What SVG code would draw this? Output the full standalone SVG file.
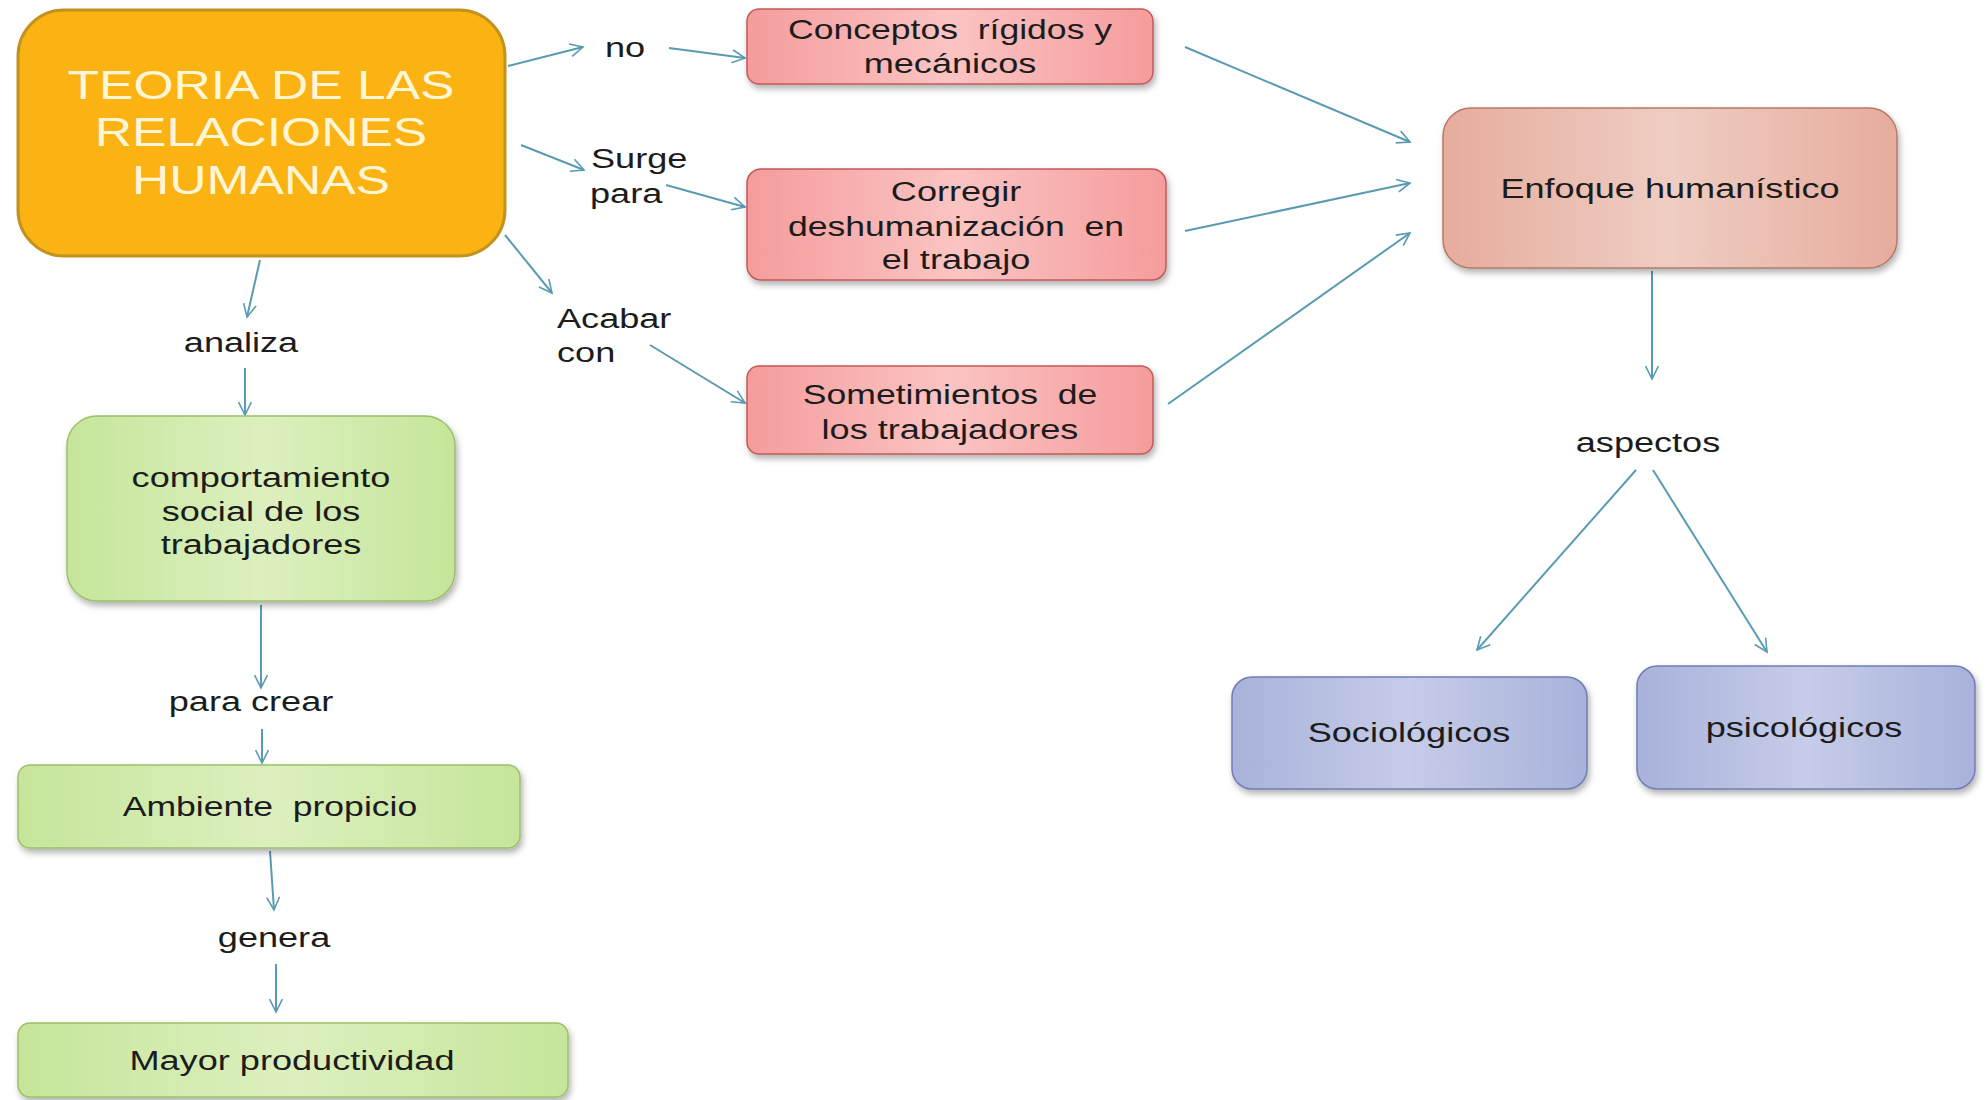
<svg xmlns="http://www.w3.org/2000/svg" width="1988" height="1100" viewBox="0 0 1988 1100">
<defs>
<style>
text{font-family:"Liberation Sans",Arial,sans-serif;font-size:28px;fill:#1c1c1c;white-space:pre}
.c{text-anchor:middle}
.s{text-anchor:start}
.t{font-size:40px;fill:#FFF6D8;text-anchor:middle}
.cn{fill:none;stroke:#5A9AB2;stroke-width:2;marker-end:url(#ah)}
.red{fill:url(#gRed);stroke:#C25A5A;stroke-width:1.5;filter:url(#sh)}
.grn{fill:url(#gGrn);stroke:#9CC06A;stroke-width:1.5;filter:url(#sh)}
.blu{fill:url(#gBlu);stroke:#6F7DB4;stroke-width:1.5;filter:url(#sh)}
.enf{fill:url(#gEnf);stroke:#B57A68;stroke-width:1.5;filter:url(#sh)}
</style>
<marker id="ah" viewBox="0 0 20 20" refX="18" refY="10" markerWidth="16" markerHeight="16" markerUnits="userSpaceOnUse" orient="auto">
<path d="M2,2 L18,10 L2,18" fill="none" stroke="#5A9AB2" stroke-width="2"/>
</marker>
<linearGradient id="gRed" x1="0" y1="0" x2="1" y2="0">
<stop offset="0" stop-color="#F59C9C"/><stop offset="0.5" stop-color="#FAC4C3"/><stop offset="1" stop-color="#F59C9C"/>
</linearGradient>
<linearGradient id="gGrn" x1="0" y1="0" x2="1" y2="0">
<stop offset="0" stop-color="#C6E59A"/><stop offset="0.5" stop-color="#DCF0BF"/><stop offset="1" stop-color="#C6E59A"/>
</linearGradient>
<linearGradient id="gBlu" x1="0" y1="0" x2="1" y2="0">
<stop offset="0" stop-color="#A8B2DA"/><stop offset="0.5" stop-color="#C6CCE9"/><stop offset="1" stop-color="#A8B2DA"/>
</linearGradient>
<linearGradient id="gEnf" x1="0" y1="0" x2="1" y2="0">
<stop offset="0" stop-color="#E6AC9C"/><stop offset="0.5" stop-color="#EFCDC3"/><stop offset="1" stop-color="#E6AC9C"/>
</linearGradient>
<filter id="sh" x="-10%" y="-10%" width="120%" height="130%">
<feDropShadow dx="2" dy="4" stdDeviation="3" flood-color="#000" flood-opacity="0.3"/>
</filter>
</defs>
<rect width="1988" height="1100" fill="#FFFFFF"/>

<g id="connectors">
<line class="cn" x1="508" y1="66" x2="583" y2="47"/>
<line class="cn" x1="669" y1="48" x2="745" y2="58"/>
<line class="cn" x1="521" y1="145" x2="584" y2="170"/>
<line class="cn" x1="666" y1="185" x2="745" y2="207"/>
<line class="cn" x1="505" y1="235" x2="552" y2="293"/>
<line class="cn" x1="650" y1="345" x2="745" y2="403"/>
<line class="cn" x1="1185" y1="47" x2="1410" y2="142"/>
<line class="cn" x1="1185" y1="231" x2="1410" y2="183"/>
<line class="cn" x1="1168" y1="404" x2="1410" y2="233"/>
<line class="cn" x1="1652" y1="271" x2="1652" y2="379"/>
<line class="cn" x1="1636" y1="470" x2="1477" y2="650"/>
<line class="cn" x1="1653" y1="470" x2="1767" y2="652"/>
<line class="cn" x1="260" y1="260" x2="247" y2="317"/>
<line class="cn" x1="245" y1="368" x2="245" y2="415"/>
<line class="cn" x1="261" y1="605" x2="261" y2="688"/>
<line class="cn" x1="262" y1="729" x2="262" y2="763"/>
<line class="cn" x1="270" y1="851" x2="274" y2="910"/>
<line class="cn" x1="276" y1="964" x2="276" y2="1012"/>
</g>

<g id="main">
<rect x="18" y="10" width="487" height="246" rx="46" fill="#FBB313" stroke="#C2921F" stroke-width="3"/>
<text class="t" transform="translate(261,0) scale(1.29,1)" x="0" y="99">TEORIA DE LAS</text>
<text class="t" transform="translate(261,0) scale(1.29,1)" x="0" y="146">RELACIONES</text>
<text class="t" transform="translate(261,0) scale(1.29,1)" x="0" y="194">HUMANAS</text>
</g>

<g id="lbl-no"><text class="c" transform="translate(625,0) scale(1.29,1)" x="0" y="57">no</text></g>
<g id="lbl-surge">
<text class="s" transform="translate(591,0) scale(1.29,1)" x="0" y="168">Surge</text>
<text class="s" transform="translate(590,0) scale(1.29,1)" x="0" y="203">para</text>
</g>
<g id="lbl-acabar">
<text class="s" transform="translate(557,0) scale(1.29,1)" x="0" y="328">Acabar</text>
<text class="s" transform="translate(557,0) scale(1.29,1)" x="0" y="362">con</text>
</g>

<g id="conceptos">
<rect class="red" x="747" y="9" width="406" height="75" rx="12"/>
<text class="c" transform="translate(950,0) scale(1.27,1)" x="0" y="39">Conceptos  rígidos y</text>
<text class="c" transform="translate(950,0) scale(1.29,1)" x="0" y="73">mecánicos</text>
</g>
<g id="corregir">
<rect class="red" x="747" y="169" width="419" height="111" rx="14"/>
<text class="c" transform="translate(956,0) scale(1.29,1)" x="0" y="201">Corregir</text>
<text class="c" transform="translate(956,0) scale(1.27,1)" x="0" y="236">deshumanización  en</text>
<text class="c" transform="translate(956,0) scale(1.29,1)" x="0" y="269">el trabajo</text>
</g>
<g id="sometimientos">
<rect class="red" x="747" y="366" width="406" height="88" rx="12"/>
<text class="c" transform="translate(950,0) scale(1.27,1)" x="0" y="404">Sometimientos  de</text>
<text class="c" transform="translate(950,0) scale(1.29,1)" x="0" y="439">los trabajadores</text>
</g>

<g id="enfoque">
<rect class="enf" x="1443" y="108" width="454" height="160" rx="28"/>
<text class="c" transform="translate(1670,0) scale(1.29,1)" x="0" y="198">Enfoque humanístico</text>
</g>
<g id="lbl-aspectos"><text class="c" transform="translate(1648,0) scale(1.29,1)" x="0" y="452">aspectos</text></g>
<g id="sociologicos">
<rect class="blu" x="1232" y="677" width="355" height="112" rx="20"/>
<text class="c" transform="translate(1409,0) scale(1.29,1)" x="0" y="742">Sociológicos</text>
</g>
<g id="psicologicos">
<rect class="blu" x="1637" y="666" width="338" height="123" rx="20"/>
<text class="c" transform="translate(1804,0) scale(1.29,1)" x="0" y="737">psicológicos</text>
</g>

<g id="lbl-analiza"><text class="c" transform="translate(241,0) scale(1.29,1)" x="0" y="352">analiza</text></g>
<g id="comportamiento">
<rect class="grn" x="67" y="416" width="388" height="185" rx="30"/>
<text class="c" transform="translate(261,0) scale(1.29,1)" x="0" y="487">comportamiento</text>
<text class="c" transform="translate(261,0) scale(1.29,1)" x="0" y="521">social de los</text>
<text class="c" transform="translate(261,0) scale(1.29,1)" x="0" y="554">trabajadores</text>
</g>
<g id="lbl-paracrear"><text class="c" transform="translate(251,0) scale(1.29,1)" x="0" y="711">para crear</text></g>
<g id="ambiente">
<rect class="grn" x="18" y="765" width="502" height="83" rx="12"/>
<text class="c" transform="translate(270,0) scale(1.27,1)" x="0" y="816">Ambiente  propicio</text>
</g>
<g id="lbl-genera"><text class="c" transform="translate(274,0) scale(1.29,1)" x="0" y="947">genera</text></g>
<g id="mayor">
<rect class="grn" x="18" y="1023" width="550" height="74" rx="12"/>
<text class="c" transform="translate(292,0) scale(1.29,1)" x="0" y="1070">Mayor productividad</text>
</g>
</svg>
